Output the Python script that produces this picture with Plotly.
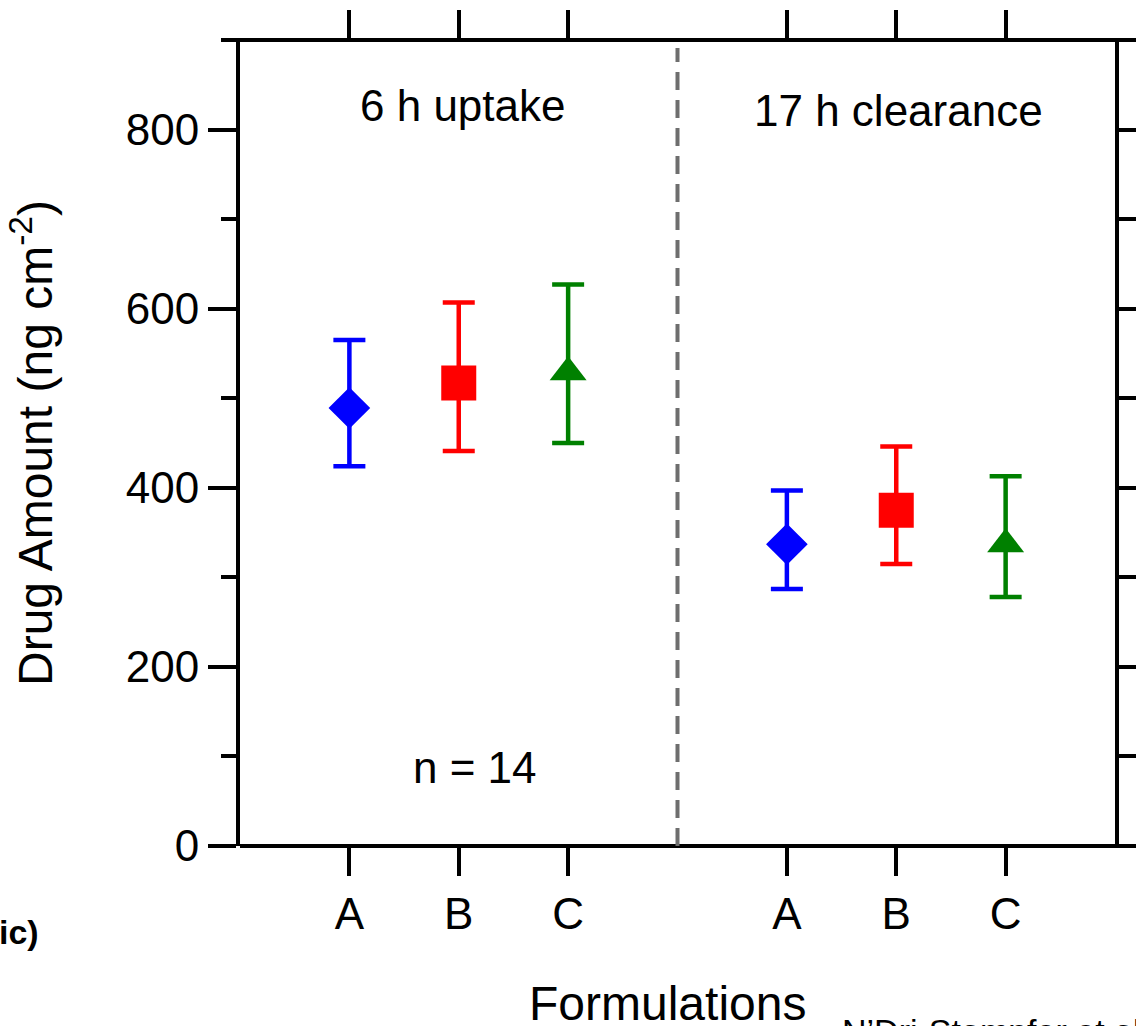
import plotly.graph_objects as go

# ---- data ----
categories = ["A", "B", "C"]
x_uptake = [1, 2, 3]
x_clearance = [5, 6, 7]
uptake_mean = [489, 517, 529]
uptake_plus = [76, 90, 98]
uptake_minus = [65, 76, 79]
clearance_mean = [337, 375, 337]
clearance_plus = [60, 71, 76]
clearance_minus = [50, 60, 59]
colors = ["#0000FF", "#FF0000", "#008000"]
symbols = ["diamond", "square", "triangle-up"]
sizes = [32, 35, 32]
y_ticks = [0, 200, 400, 600, 800]
right_ticks = [0, 100, 200, 300, 400, 500, 600, 700, 800, 900]

FONT = "Liberation Sans, Arial, sans-serif"

fig = go.Figure()
for i in range(3):
    fig.add_trace(go.Scatter(
        x=[x_uptake[i], x_clearance[i]],
        y=[uptake_mean[i], clearance_mean[i]],
        mode="markers",
        marker=dict(symbol=symbols[i], size=sizes[i], color=colors[i], line=dict(width=0)),
        error_y=dict(type="data", symmetric=False,
                     array=[uptake_plus[i], clearance_plus[i]],
                     arrayminus=[uptake_minus[i], clearance_minus[i]],
                     color=colors[i], thickness=4.5, width=16),
        showlegend=False, cliponaxis=False,
    ))

# invisible trace to anchor the secondary (top / right) axes
fig.add_trace(go.Scatter(x=[1], y=[0], xaxis="x2", yaxis="y2", mode="markers",
                         marker=dict(opacity=0), showlegend=False, hoverinfo="skip"))

fig.update_layout(
    width=1136, height=1026,
    margin=dict(l=240, r=21, t=40, b=180, autoexpand=False),
    paper_bgcolor="white", plot_bgcolor="white",
    font=dict(family=FONT, color="black", size=44),
    xaxis=dict(range=[0, 8], tickvals=x_uptake + x_clearance, ticktext=categories + categories,
               ticks="outside", ticklen=29, tickwidth=4, tickcolor="black",
               showline=False, showgrid=False, zeroline=False, automargin=False,
               tickfont=dict(size=44, family=FONT)),
    xaxis2=dict(range=[0, 8], overlaying="x", side="top", tickvals=x_uptake + x_clearance,
                ticks="outside", ticklen=29, tickwidth=4, tickcolor="black", automargin=False,
                showticklabels=False, showline=False, showgrid=False, zeroline=False),
    yaxis=dict(range=[0, 900], tickvals=y_ticks, ticks="outside", ticklen=28, tickwidth=4,
               tickcolor="black", showline=True, linewidth=4, linecolor="black",
               showgrid=False, zeroline=False, automargin=False,
               tickfont=dict(size=44, family=FONT),
               minor=dict(dtick=100, tick0=0, ticks="outside", ticklen=15, tickwidth=4,
                          tickcolor="black", showgrid=False)),
    yaxis2=dict(range=[0, 900], overlaying="y", side="right", tickvals=right_ticks,
                ticks="outside", ticklen=22, tickwidth=4, tickcolor="black",
                showticklabels=False, showline=True, linewidth=4, linecolor="black",
                showgrid=False, zeroline=False, automargin=False),
    shapes=[
        dict(type="line", xref="paper", yref="paper", x0=-0.0171, x1=1.0183, y0=1, y1=1,
             line=dict(color="black", width=4)),
        dict(type="line", xref="paper", yref="paper", x0=0, x1=1.03, y0=0, y1=0,
             line=dict(color="black", width=4)),
        dict(type="line", xref="x", yref="paper", x0=4, x1=4, y0=0, y1=0.99,
             line=dict(color="#6e6e6e", width=4, dash="18px,10px")),
    ],
    annotations=[
        dict(text="6 h uptake", xref="paper", yref="paper", x=0.255, y=0.919,
             xanchor="center", yanchor="middle",
             showarrow=False, font=dict(size=44, family=FONT)),
        dict(text="17 h clearance", xref="paper", yref="paper", x=0.753, y=0.913,
             xanchor="center", yanchor="middle",
             showarrow=False, font=dict(size=44, family=FONT)),
        dict(text="n = 14", xref="paper", yref="paper", x=0.2686, y=0.0968,
             xanchor="center", yanchor="middle",
             showarrow=False, font=dict(size=44, family=FONT)),
        dict(text="Formulations", xref="paper", yref="paper", x=0.489, y=-0.195,
             xanchor="center", yanchor="middle",
             showarrow=False, font=dict(size=48, family=FONT)),
        dict(text="Drug Amount (ng cm<sup>-2</sup>)", xref="paper", yref="paper",
             x=-0.2377, y=0.5, textangle=-90, xanchor="center", yanchor="middle",
             showarrow=False, font=dict(size=48, family=FONT)),
        dict(text="<b>ic)</b>", xref="paper", yref="paper", x=-0.2777, y=-0.1067,
             xanchor="left", yanchor="middle", showarrow=False,
             font=dict(size=34, family=FONT)),
        dict(text="N’Dri-Stampfer et al.", xref="paper", yref="paper", x=0.6857, y=-0.204,
             xanchor="left", yanchor="top", showarrow=False,
             font=dict(size=34, family=FONT)),
    ],
)

fig.write_html("out.html")
